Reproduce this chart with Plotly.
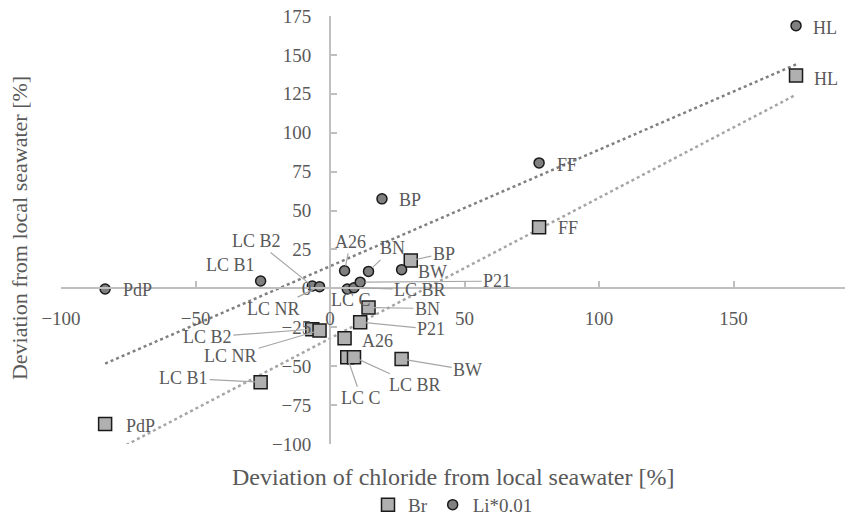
import numpy as np
import plotly.graph_objects as go

# ---------------- data ----------------
names = ["HL", "FF", "BP", "PdP", "LC B1", "LC B2", "LC NR", "A26", "BN", "BW", "LC C", "LC BR", "P21"]
chloride_li = [173.2, 77.7, 19.3, -83.6, -25.8, -6.6, -3.9, 5.4, 14.3, 26.6, 6.4, 8.9, 11.2]
li_001 = [168.8, 80.6, 57.5, -0.4, 4.7, 1.5, 1.1, 11.3, 10.9, 12.0, -0.4, 0.4, 4.0]
chloride_br = [173.2, 77.7, 30.0, -83.6, -25.8, -6.6, -3.9, 5.4, 14.3, 26.6, 6.4, 8.9, 11.2]
br = [136.8, 39.2, 17.9, -87.1, -60.3, -26.2, -27.0, -32.0, -12.3, -45.4, -44.3, -44.3, -21.7]

x_title = "Deviation of chloride from local seawater [%]"
y_title = "Deviation from local seawater [%]"

# ---------------- styles ----------------
FONT = "Liberation Serif"
TXT = "#595959"
AX = "#bfbfbf"

# label offsets in pixels (dx, dy; dy positive = down), and whether a leader line is drawn
li_lab = {"HL": (29, 2, 0), "FF": (28, 2, 0), "BP": (28, 1, 0), "PdP": (32, 1, 0),
          "LC B1": (-30, -16, 0), "LC B2": (-56, -45, 1), "LC NR": (-46, 22, 1),
          "A26": (6, -29, 1), "BN": (24, -23, 1), "BW": (31, 2, 0), "P21": (137, -1, 1),
          "LC BR": (66, 2, 1), "LC C": (4, 11, 0)}
br_lab = {"HL": (30, 4, 0), "FF": (29, 1, 0), "BP": (33, -7, 1), "PdP": (35, 2, 0),
          "LC B1": (-77, -4, 1), "LC B2": (-105, 8, 1), "LC NR": (-89, 26, 1),
          "BN": (59, 1, 1), "P21": (71, 7, 1), "A26": (33, 3, 0), "LC C": (14, 41, 1),
          "LC BR": (61, 28, 1), "BW": (66, 11, 1)}

fig = go.Figure()

# trendlines (linear least squares, drawn across data x-extent)
def trend(xs, ys, color):
    xs = np.asarray(xs, float); ys = np.asarray(ys, float)
    m, c = np.polyfit(xs, ys, 1)
    xx = np.array([xs.min(), xs.max()])
    fig.add_trace(go.Scatter(x=xx, y=m * xx + c, mode="lines", showlegend=False,
                             line=dict(color=color, width=2.5, dash="dot"), hoverinfo="skip"))

trend(chloride_li, li_001, "#808080")
trend(chloride_br, br, "#a6a6a6")

fig.add_trace(go.Scatter(x=chloride_br, y=br, mode="markers", name="Br",
                         marker=dict(symbol="square", size=13, color="#b0b0b0",
                                     line=dict(color="#1a1a1a", width=1.5))))
fig.add_trace(go.Scatter(x=chloride_li, y=li_001, mode="markers", name="Li*0.01",
                         marker=dict(symbol="circle", size=10, color="#808080",
                                     line=dict(color="#1a1a1a", width=1.5))))

annots = []
for xs, ys, labs in ((chloride_li, li_001, li_lab), (chloride_br, br, br_lab)):
    for n, xv, yv in zip(names, xs, ys):
        dx, dy, line = labs[n]
        a = dict(x=xv, y=yv, text=n, font=dict(family=FONT, size=18, color=TXT))
        if line:
            a.update(showarrow=True, ax=dx, ay=dy, arrowhead=0, arrowwidth=1.2,
                     arrowcolor="#a6a6a6", standoff=5)
        else:
            a.update(showarrow=False, xshift=dx, yshift=-dy)
        annots.append(a)

annots.append(dict(text=x_title, xref="paper", yref="paper", x=0.5, y=-0.077,
                   showarrow=False, font=dict(family=FONT, size=24, color=TXT),
                   xanchor="center", yanchor="middle"))
annots.append(dict(text=y_title, xref="paper", yref="paper", x=-0.052, y=0.505,
                   showarrow=False, textangle=-90, font=dict(family=FONT, size=22, color=TXT),
                   xanchor="center", yanchor="middle"))

axis_common = dict(showgrid=False, zeroline=False, showline=True, linecolor=AX, linewidth=2,
                   ticks="inside", tickcolor=AX, ticklen=6, tickwidth=1.5,
                   tickfont=dict(family=FONT, size=19, color=TXT), anchor="free")

fig.update_layout(
    width=845, height=524,
    margin=dict(l=61, r=0, t=16, b=78),
    paper_bgcolor="white", plot_bgcolor="white",
    xaxis=dict(range=[-100, 191.4], tick0=-100, dtick=50, position=100 / 275,
               ticklabelstandoff=13, **axis_common),
    yaxis=dict(range=[-100, 175], tick0=-100, dtick=25, position=100 / 291.4,
               ticklabelstandoff=14, **axis_common),
    legend=dict(orientation="h", x=0.5, xanchor="center", y=-0.142, yanchor="middle",
                font=dict(family=FONT, size=19, color=TXT), itemwidth=30),
    annotations=annots,
    showlegend=True,
)

fig.write_html("out.html")
